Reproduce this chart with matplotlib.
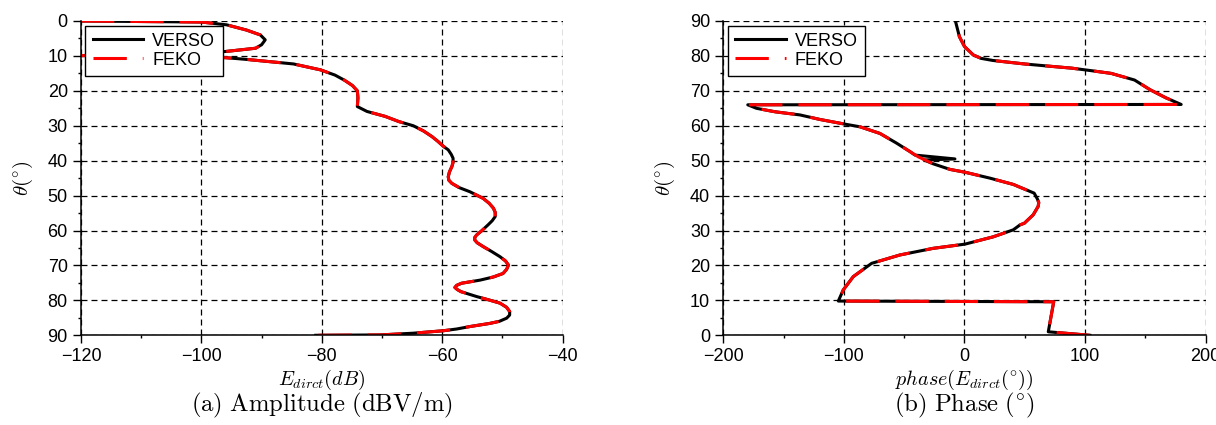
import numpy as np
import matplotlib.pyplot as plt
from matplotlib.ticker import MultipleLocator

plt.rcParams['font.family'] = ['Liberation Sans', 'DejaVu Sans']
plt.rcParams['mathtext.fontset'] = 'cm'
plt.rcParams['lines.scale_dashes'] = False

# amplitude of the direct field (VERSO and FEKO overlap)
theta_amp = [0, 0.3, 1.1, 2.6, 4, 5.4, 6.8, 7.8, 8.7, 9.3, 9.9, 10.2, 10.5, 11,
             12.3, 14, 15.5, 17, 18.5, 20, 22, 24.5, 25.9, 27.3, 28.8, 30, 31.5,
             33.1, 34.5, 35.9, 36.9, 38.2, 39.3, 40.5, 41.7, 43.2, 44.6, 45.6, 46.5,
             47.7, 48.9, 50.8, 52.2, 53.6, 54.8, 56.0, 57.2, 58.4, 60, 61.3, 62,
             62.7, 63.5, 64.6, 66, 67.5, 68.7, 69.9, 71.1, 72.3, 73.3, 74.2, 75.1,
             75.7, 76.3, 76.9, 77.5, 78.2, 78.9, 79.8, 80.8, 82, 83.2, 84.2, 85.1,
             86, 86.6, 87.5, 88.2, 88.7, 89.4, 89.9, 90]
amp_verso = [-120, -100, -95.8, -92.5, -90.2, -89.4, -90, -91, -95.8, -100, -120, -100,
             -96, -92.5, -84.7, -80.2, -77.8, -76.2, -74.9, -74.1, -74, -74.1, -72.5,
             -69.5, -67.2, -64.8, -63.1, -61.7, -60.7, -59.8, -59.0, -58.5, -58.2,
             -58.2, -58.4, -58.8, -59.0, -58.9, -58.4, -57.2, -55.4, -53.2, -52.2,
             -51.5, -51.2, -51.2, -51.7, -52.4, -53.4, -54.3, -54.6, -54.6, -54.2,
             -53.2, -51.8, -50.4, -49.5, -49.0, -49.3, -49.9, -51.5, -53.7, -56.8,
             -57.6, -57.9, -57.5, -56.9, -55.6, -54.3, -52.4, -50.4, -49.3, -48.8,
             -48.8, -49.3, -50.5, -52.1, -55.4, -57.6, -59.8, -64.8, -70.3, -81]
amp_feko = amp_verso

# phase of the direct field
theta_ph_feko = [0, 1.0, 9.6, 9.8, 13.0, 16.8, 20.6, 23.0, 24.9, 26.1, 28.2, 30.2,
                 31.6, 32.1, 34.5, 36.9, 38, 39, 40.7, 42.4, 43.2, 45.0, 46.7, 47.5,
                 49.1, 51.1, 52.6, 55.0, 57.8, 59.7, 60.5, 61.8, 63.1, 64, 65, 66.0,
                 66.1, 68, 70.3, 73.1, 75, 75.8, 76.5, 77.1, 77.7, 78.7, 79.3, 80.3,
                 82.7, 85.5, 90]
phase_feko = [104, 69.5, 74, -104.6, -100.5, -92.2, -77.0, -53.5, -25.9, 0.4, 23.9,
              40.5, 46, 49.7, 57, 61.1, 61.6, 60.5, 57.8, 46, 40.5, 21.1, 0.4, -12,
              -25.9, -38.3, -45.2, -56.2, -70.1, -86.6, -99.7, -119.8, -136.4, -157,
              -172.5, -179.7, 179.7, 167, 154, 141, 121.6, 104.6, 88.9, 69, 49.7,
              23.5, 13.7, 7.2, 0, -4.2, -7.5]
# VERSO shows a small spike near 50 deg
theta_ph_verso = [0, 1.0, 9.6, 9.8, 13.0, 16.8, 20.6, 23.0, 24.9, 26.1, 28.2, 30.2,
                  31.6, 32.1, 34.5, 36.9, 38, 39, 40.7, 42.4, 43.2, 45.0, 46.7, 47.5,
                  49.1, 50.2, 50.5, 51.6, 52.6, 55.0, 57.8, 59.7, 60.5, 61.8, 63.1, 64,
                  65, 66.0, 66.1, 68, 70.3, 73.1, 75, 75.8, 76.5, 77.1, 77.7, 78.7,
                  79.3, 80.3, 82.7, 85.5, 90]
phase_verso = [104, 69.5, 74, -104.6, -100.5, -92.2, -77.0, -53.5, -25.9, 0.4, 23.9,
               40.5, 46, 49.7, 57, 61.1, 61.6, 60.5, 57.8, 46, 40.5, 21.1, 0.4, -12,
               -25.9, -33.5, -7.9, -41, -45.2, -56.2, -70.1, -86.6, -99.7, -119.8,
               -136.4, -157, -172.5, -179.7, 179.7, 167, 154, 141, 121.6, 104.6, 88.9,
               69, 49.7, 23.5, 13.7, 7.2, 0, -4.2, -7.5]

fig = plt.figure(figsize=(12.16, 4.25), dpi=100)
ax1 = fig.add_axes([0.0666, 0.2111, 0.3961, 0.7395])
ax2 = fig.add_axes([0.5948, 0.2111, 0.3967, 0.7395])


def style(ax):
    ax.grid(True, color='k', ls=(0, (4.3, 2.9)), lw=0.9)
    ax.set_axisbelow(True)
    for s in ['top', 'right']:
        ax.spines[s].set_visible(False)
    for s in ['left', 'bottom']:
        ax.spines[s].set_linewidth(1.1)
    ax.yaxis.set_major_locator(MultipleLocator(10))
    ax.yaxis.set_minor_locator(MultipleLocator(5))
    ax.tick_params(which='major', direction='out', length=6, width=1, labelsize=13)
    ax.tick_params(which='minor', direction='out', length=2.5, width=1)


def curves(ax, x1, y1, x2, y2):
    ax.plot(x1, y1, color='k', lw=2.2, label='VERSO')
    ax.plot(x2, y2, color='red', lw=2.2, dashes=(24, 11.5), label='FEKO')
    leg = ax.legend(loc='upper left', fontsize=13, fancybox=False, edgecolor='k',
                    framealpha=1, borderaxespad=0.25, handlelength=2.8,
                    handletextpad=0.5, labelspacing=0.1, borderpad=0.4)
    leg.get_frame().set_linewidth(1.0)


style(ax1)
curves(ax1, amp_verso, theta_amp, amp_feko, theta_amp)
ax1.set_xlim(-120, -40)
ax1.set_ylim(90, 0)
ax1.xaxis.set_major_locator(MultipleLocator(20))
ax1.xaxis.set_minor_locator(MultipleLocator(10))
ax1.set_ylabel(r'$\theta(^{\circ})$', fontsize=15, labelpad=9)
ax1.set_xlabel(r'$E_{dirct}(dB)$', fontsize=14.5, labelpad=2)

style(ax2)
curves(ax2, phase_verso, theta_ph_verso, phase_feko, theta_ph_feko)
ax2.set_xlim(-200, 200)
ax2.set_ylim(0, 90)
ax2.xaxis.set_major_locator(MultipleLocator(100))
ax2.xaxis.set_minor_locator(MultipleLocator(50))
ax2.set_ylabel(r'$\theta(^{\circ})$', fontsize=15, labelpad=9)
ax2.set_xlabel(r'$phase(E_{dirct}(^{\circ}))$', fontsize=14.5, labelpad=2)

fig.text(0.2646, 0.045, r'$\mathrm{(a)\ Amplitude\ (dBV/m)}$', fontsize=17.8,
         ha='center', va='center')
fig.text(0.7932, 0.045, r'$\mathrm{(b)\ Phase\ (^{\circ})}$', fontsize=17.8,
         ha='center', va='center')

fig.savefig('out.png', dpi=100)
